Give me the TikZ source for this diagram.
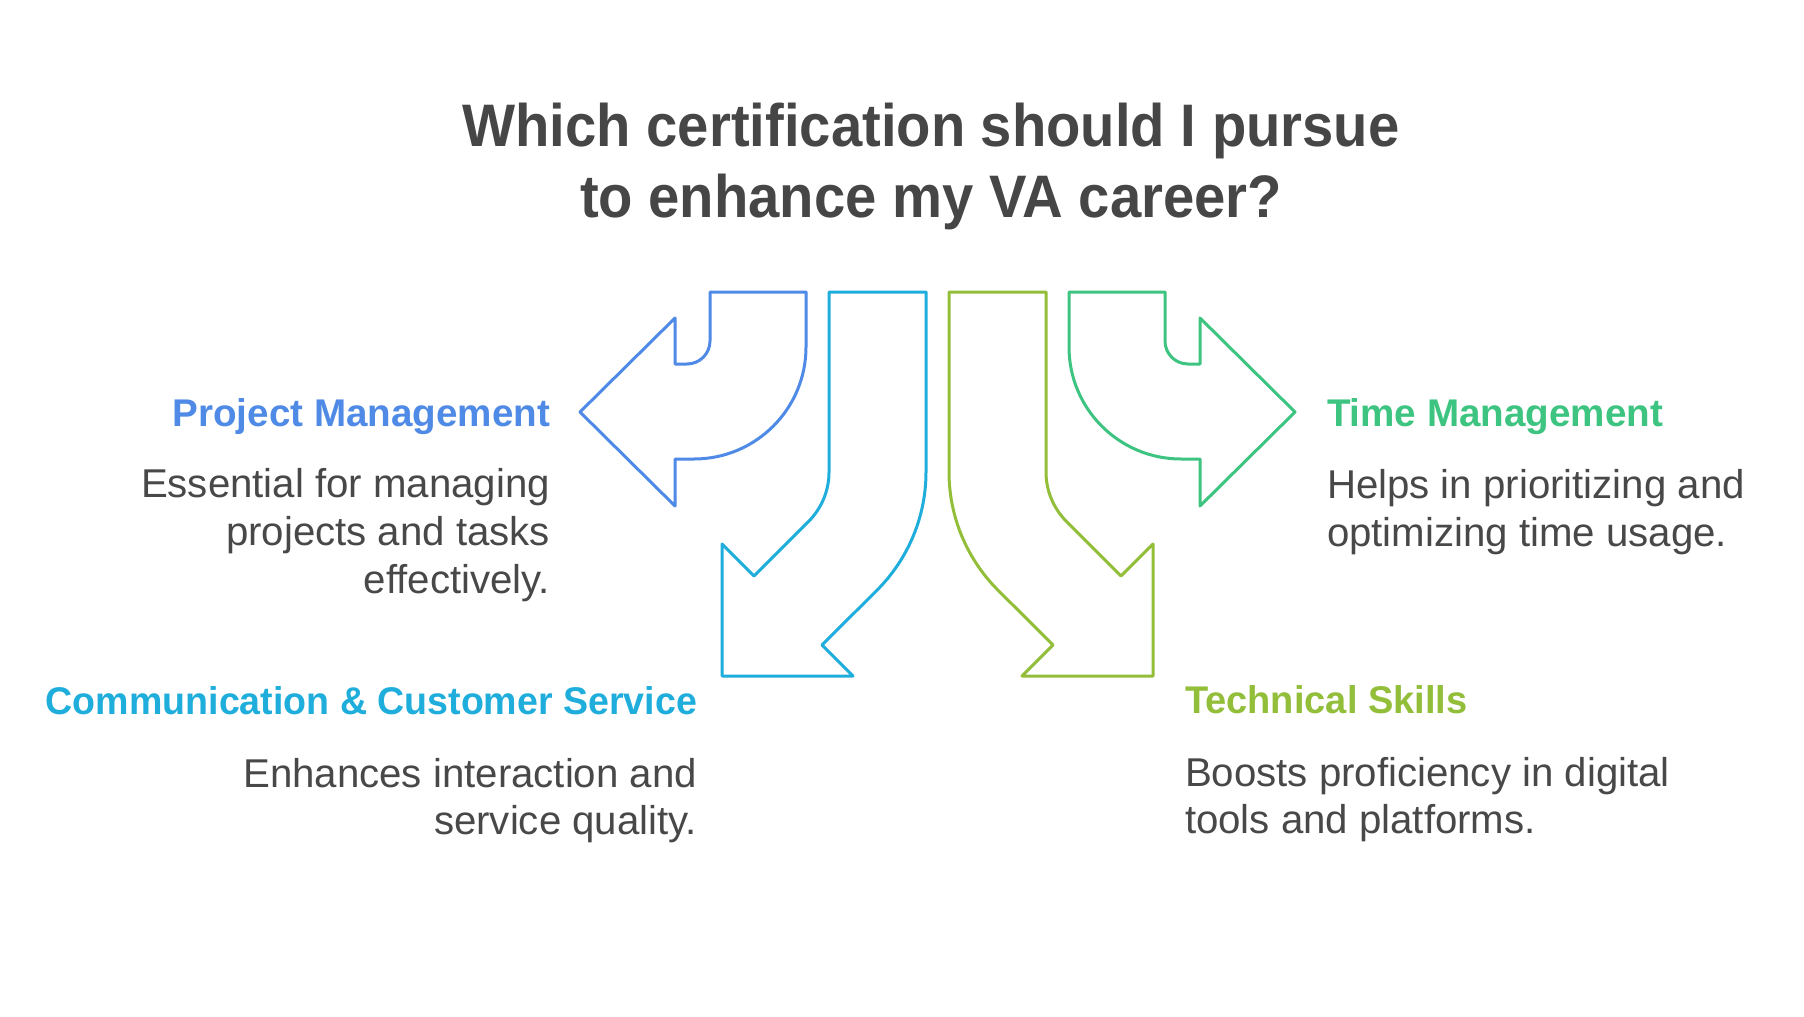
\documentclass[tikz,border=0pt]{standalone}
\usepackage{fontspec}
\setmainfont{Liberation Sans}
\newfontfamily\titlefont[FakeStretch=0.937]{Liberation Sans}
\definecolor{titlegray}{RGB}{70,70,70}
\definecolor{bodygray}{RGB}{72,72,72}
\definecolor{pmblue}{RGB}{78,138,230}
\definecolor{cscyan}{RGB}{31,174,220}
\definecolor{tsgreen}{RGB}{146,190,58}
\definecolor{tmgreen}{RGB}{60,196,128}
\begin{document}
\begin{tikzpicture}[x=0.5pt,y=-0.5pt,
  txt/.style={inner sep=0pt, outer sep=0pt},
  ttl/.style={txt, font=\titlefont\bfseries\fontsize{30pt}{36pt}\selectfont, text=titlegray},
  hd/.style={txt, font=\bfseries\fontsize{19.3pt}{23pt}\selectfont},
  bd/.style={txt, font=\fontsize{20.1pt}{24pt}\selectfont, text=bodygray},
  arr/.style={line width=1.5pt, line join=round}]
\useasboundingbox[fill=white] (0,0) rectangle (1804,1017);

% Title
\node[ttl, anchor=base] (t1) at (931,146) {Which certification should I pursue};
\node[ttl, anchor=base] (t2) at (931,217) {to enhance my VA career?};

% Project Management arrow (left)
\draw[arr, pmblue] (710,292) -- (806,292) -- (806,347)
  arc[start angle=0, end angle=90, radius=112] -- (675,459) -- (675,506)
  -- (580,412) -- (675,318) -- (675,364) -- (687,364)
  arc[start angle=90, end angle=0, radius=23] -- cycle;

% Time Management arrow (right)
\draw[arr, tmgreen] (1165,292) -- (1069,292) -- (1069,347)
  arc[start angle=180, end angle=90, radius=112] -- (1200,459) -- (1200,506)
  -- (1295,412) -- (1200,318) -- (1200,364) -- (1188,364)
  arc[start angle=90, end angle=180, radius=23] -- cycle;

% Communication arrow (down-left)
\draw[arr, cscyan] (829,292) -- (926,292) -- (926,472)
  arc[start angle=0, end angle=45, radius=167] -- (822,645) -- (853,676)
  -- (722,676) -- (722,544) -- (754,576) -- (808.5,521.5)
  arc[start angle=45, end angle=0, radius=70] -- cycle;

% Technical Skills arrow (down-right)
\draw[arr, tsgreen] (1046,292) -- (949,292) -- (949,472)
  arc[start angle=180, end angle=135, radius=167] -- (1053,645) -- (1022,676)
  -- (1153,676) -- (1153,544) -- (1121,576) -- (1066.5,521.5)
  arc[start angle=135, end angle=180, radius=70] -- cycle;

% Project Management text
\node[hd, text=pmblue, anchor=base east] (pmh) at (550,426) {Project Management};
\node[bd, anchor=base east] (pmb1) at (550,497) {Essential for managing};
\node[bd, anchor=base east] (pmb2) at (550,545) {projects and tasks};
\node[bd, anchor=base east] (pmb3) at (550,593) {effectively.};

% Time Management text
\node[hd, text=tmgreen, anchor=base west] (tmh) at (1327,426) {Time Management};
\node[bd, anchor=base west] (tmb1) at (1327,498) {Helps in prioritizing and};
\node[bd, anchor=base west] (tmb2) at (1327,546) {optimizing time usage.};

% Communication text
\node[hd, text=cscyan, anchor=base east] (csh) at (697,714) {\scalebox{0.973}[1]{Communication \& Customer Service}};
\node[bd, anchor=base east] (csb1) at (697,787) {Enhances interaction and};
\node[bd, anchor=base east] (csb2) at (697,834) {service quality.};

% Technical Skills text
\node[hd, text=tsgreen, anchor=base west] (tsh) at (1185,713) {\scalebox{0.985}[1]{Technical Skills}};
\node[bd, anchor=base west] (tsb1) at (1185,786) {Boosts proficiency in digital};
\node[bd, anchor=base west] (tsb2) at (1185,833) {tools and platforms.};
\end{tikzpicture}
\end{document}
